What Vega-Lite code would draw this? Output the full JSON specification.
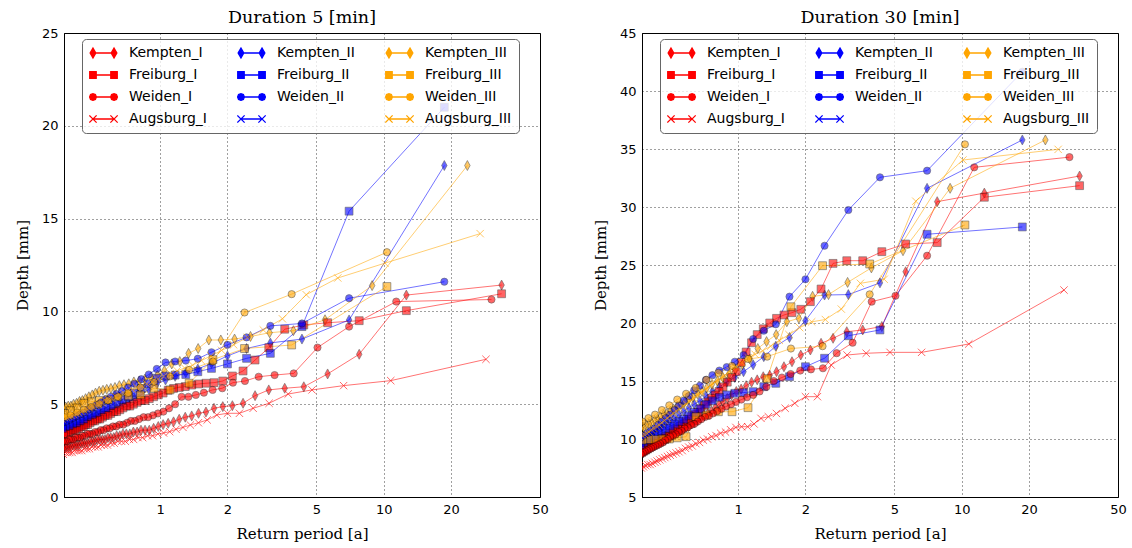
{
  "$schema": "https://vega.github.io/schema/vega-lite/v6.json",
  "background": "white",
  "padding": {"left": 14, "top": 8, "right": 5, "bottom": 5},
  "config": {
    "view": {"stroke": "black", "strokeWidth": 1},
    "axis": {
      "domainColor": "black", "labelColor": "black", "labelFont": "DejaVu Sans", "labelFontSize": 13,
      "titleFont": "DejaVu Serif", "titleFontSize": 15, "titleFontWeight": "normal", "titleColor": "black",
      "grid": true, "gridColor": "#000", "gridDash": [1, 3], "gridOpacity": 0.75, "gridWidth": 1,
      "ticks": false, "labelPadding": 6, "labelFlush": false, "labelOverlap": false, "labelBound": false
    },
    "title": {"font": "DejaVu Serif", "fontSize": 17.5, "fontWeight": "normal", "color": "black", "anchor": "middle", "frame": "group", "baseline": "alphabetic", "offset": 1},
    "legend": {
      "columns": 3, "columnPadding": 30, "rowPadding": 8, "clipHeight": 14, "padding": 7, "gridAlign": "each",
      "symbolSize": 729, "symbolStrokeWidth": 1.3, "symbolOpacity": 1, "labelOffset": 11,
      "labelFont": "DejaVu Sans", "labelFontSize": 14, "labelColor": "black", "labelLimit": 200,
      "fillColor": "rgba(255,255,255,0.78)", "strokeColor": "#666", "cornerRadius": 4
    }
  },
  "datasets": {
    "d5": [
      {"s":"Kempten_I","t":33.667,"v":11.42},{"s":"Kempten_I","t":12.625,"v":10.88},{"s":"Kempten_I","t":7.769,"v":7.69},{"s":"Kempten_I","t":5.611,"v":6.63},{"s":"Kempten_I","t":4.391,"v":5.94},{"s":"Kempten_I","t":3.607,"v":5.86},{"s":"Kempten_I","t":3.061,"v":5.77},{"s":"Kempten_I","t":2.658,"v":5.46},{"s":"Kempten_I","t":2.349,"v":5.05},{"s":"Kempten_I","t":2.104,"v":4.92},
      {"s":"Kempten_I","t":1.906,"v":4.87},{"s":"Kempten_I","t":1.741,"v":4.78},{"s":"Kempten_I","t":1.603,"v":4.58},{"s":"Kempten_I","t":1.485,"v":4.51},{"s":"Kempten_I","t":1.384,"v":4.37},{"s":"Kempten_I","t":1.295,"v":4.3},{"s":"Kempten_I","t":1.217,"v":4.19},{"s":"Kempten_I","t":1.148,"v":4.05},{"s":"Kempten_I","t":1.086,"v":3.97},{"s":"Kempten_I","t":1.031,"v":3.9},
      {"s":"Kempten_I","t":0.981,"v":3.8},{"s":"Kempten_I","t":0.935,"v":3.7},{"s":"Kempten_I","t":0.894,"v":3.6},{"s":"Kempten_I","t":0.856,"v":3.6},{"s":"Kempten_I","t":0.821,"v":3.6},{"s":"Kempten_I","t":0.789,"v":3.5},{"s":"Kempten_I","t":0.759,"v":3.5},{"s":"Kempten_I","t":0.732,"v":3.4},{"s":"Kempten_I","t":0.706,"v":3.4},{"s":"Kempten_I","t":0.682,"v":3.4},
      {"s":"Kempten_I","t":0.66,"v":3.3},{"s":"Kempten_I","t":0.639,"v":3.3},{"s":"Kempten_I","t":0.62,"v":3.2},{"s":"Kempten_I","t":0.601,"v":3.2},{"s":"Kempten_I","t":0.584,"v":3.2},{"s":"Kempten_I","t":0.567,"v":3.1},{"s":"Kempten_I","t":0.552,"v":3.1},{"s":"Kempten_I","t":0.537,"v":3.1},{"s":"Kempten_I","t":0.523,"v":3.1},{"s":"Kempten_I","t":0.51,"v":3.0},
      {"s":"Kempten_I","t":0.498,"v":3.0},{"s":"Kempten_I","t":0.486,"v":3.0},{"s":"Kempten_I","t":0.474,"v":2.9},{"s":"Kempten_I","t":0.463,"v":2.9},{"s":"Kempten_I","t":0.453,"v":2.9},{"s":"Kempten_I","t":0.443,"v":2.9},{"s":"Kempten_I","t":0.433,"v":2.8},{"s":"Kempten_I","t":0.424,"v":2.8},{"s":"Kempten_I","t":0.416,"v":2.8},{"s":"Kempten_I","t":0.407,"v":2.8},
      {"s":"Kempten_I","t":0.399,"v":2.7},{"s":"Kempten_I","t":0.391,"v":2.7},{"s":"Kempten_I","t":0.384,"v":2.7},{"s":"Kempten_I","t":0.377,"v":2.7},{"s":"Kempten_I","t":0.37,"v":2.6},

      {"s":"Freiburg_I","t":33.667,"v":10.95},{"s":"Freiburg_I","t":12.625,"v":10.04},{"s":"Freiburg_I","t":7.769,"v":9.5},{"s":"Freiburg_I","t":5.611,"v":9.39},{"s":"Freiburg_I","t":4.391,"v":9.27},{"s":"Freiburg_I","t":3.607,"v":9.04},{"s":"Freiburg_I","t":3.061,"v":8.04},{"s":"Freiburg_I","t":2.658,"v":7.38},{"s":"Freiburg_I","t":2.349,"v":6.79},{"s":"Freiburg_I","t":2.104,"v":6.52},
      {"s":"Freiburg_I","t":1.906,"v":6.25},{"s":"Freiburg_I","t":1.741,"v":6.16},{"s":"Freiburg_I","t":1.603,"v":6.13},{"s":"Freiburg_I","t":1.485,"v":6.09},{"s":"Freiburg_I","t":1.384,"v":6.03},{"s":"Freiburg_I","t":1.295,"v":5.95},{"s":"Freiburg_I","t":1.217,"v":5.9},{"s":"Freiburg_I","t":1.148,"v":5.85},{"s":"Freiburg_I","t":1.086,"v":5.75},{"s":"Freiburg_I","t":1.031,"v":5.6},
      {"s":"Freiburg_I","t":0.981,"v":5.5},{"s":"Freiburg_I","t":0.935,"v":5.4},{"s":"Freiburg_I","t":0.894,"v":5.3},{"s":"Freiburg_I","t":0.856,"v":5.2},{"s":"Freiburg_I","t":0.821,"v":5.2},{"s":"Freiburg_I","t":0.789,"v":5.1},{"s":"Freiburg_I","t":0.759,"v":5.0},{"s":"Freiburg_I","t":0.732,"v":4.9},{"s":"Freiburg_I","t":0.706,"v":4.9},{"s":"Freiburg_I","t":0.682,"v":4.8},
      {"s":"Freiburg_I","t":0.66,"v":4.7},{"s":"Freiburg_I","t":0.639,"v":4.6},{"s":"Freiburg_I","t":0.62,"v":4.6},{"s":"Freiburg_I","t":0.601,"v":4.5},{"s":"Freiburg_I","t":0.584,"v":4.4},{"s":"Freiburg_I","t":0.567,"v":4.4},{"s":"Freiburg_I","t":0.552,"v":4.3},{"s":"Freiburg_I","t":0.537,"v":4.2},{"s":"Freiburg_I","t":0.523,"v":4.2},{"s":"Freiburg_I","t":0.51,"v":4.1},
      {"s":"Freiburg_I","t":0.498,"v":4.1},{"s":"Freiburg_I","t":0.486,"v":4.0},{"s":"Freiburg_I","t":0.474,"v":3.9},{"s":"Freiburg_I","t":0.463,"v":3.9},{"s":"Freiburg_I","t":0.453,"v":3.8},{"s":"Freiburg_I","t":0.443,"v":3.8},{"s":"Freiburg_I","t":0.433,"v":3.7},{"s":"Freiburg_I","t":0.424,"v":3.7},{"s":"Freiburg_I","t":0.416,"v":3.6},{"s":"Freiburg_I","t":0.407,"v":3.6},
      {"s":"Freiburg_I","t":0.399,"v":3.6},{"s":"Freiburg_I","t":0.391,"v":3.5},{"s":"Freiburg_I","t":0.384,"v":3.5},{"s":"Freiburg_I","t":0.377,"v":3.4},{"s":"Freiburg_I","t":0.37,"v":3.4},

      {"s":"Weiden_I","t":30.333,"v":10.64},{"s":"Weiden_I","t":11.375,"v":10.53},{"s":"Weiden_I","t":7.0,"v":9.18},{"s":"Weiden_I","t":5.056,"v":8.05},{"s":"Weiden_I","t":3.957,"v":6.66},{"s":"Weiden_I","t":3.25,"v":6.57},{"s":"Weiden_I","t":2.758,"v":6.48},{"s":"Weiden_I","t":2.395,"v":6.25},{"s":"Weiden_I","t":2.116,"v":6.16},{"s":"Weiden_I","t":1.896,"v":5.86},
      {"s":"Weiden_I","t":1.717,"v":5.77},{"s":"Weiden_I","t":1.569,"v":5.62},{"s":"Weiden_I","t":1.444,"v":5.5},{"s":"Weiden_I","t":1.338,"v":5.4},{"s":"Weiden_I","t":1.247,"v":5.4},{"s":"Weiden_I","t":1.167,"v":5.0},{"s":"Weiden_I","t":1.096,"v":4.78},{"s":"Weiden_I","t":1.034,"v":4.6},{"s":"Weiden_I","t":0.978,"v":4.5},{"s":"Weiden_I","t":0.929,"v":4.4},
      {"s":"Weiden_I","t":0.883,"v":4.3},{"s":"Weiden_I","t":0.843,"v":4.3},{"s":"Weiden_I","t":0.805,"v":4.2},{"s":"Weiden_I","t":0.771,"v":4.1},{"s":"Weiden_I","t":0.74,"v":4.1},{"s":"Weiden_I","t":0.711,"v":4.0},{"s":"Weiden_I","t":0.684,"v":3.9},{"s":"Weiden_I","t":0.659,"v":3.9},{"s":"Weiden_I","t":0.636,"v":3.8},{"s":"Weiden_I","t":0.615,"v":3.8},
      {"s":"Weiden_I","t":0.595,"v":3.7},{"s":"Weiden_I","t":0.576,"v":3.7},{"s":"Weiden_I","t":0.558,"v":3.6},{"s":"Weiden_I","t":0.542,"v":3.6},{"s":"Weiden_I","t":0.526,"v":3.5},{"s":"Weiden_I","t":0.511,"v":3.5},{"s":"Weiden_I","t":0.497,"v":3.4},{"s":"Weiden_I","t":0.484,"v":3.4},{"s":"Weiden_I","t":0.472,"v":3.4},{"s":"Weiden_I","t":0.46,"v":3.3},
      {"s":"Weiden_I","t":0.448,"v":3.3},{"s":"Weiden_I","t":0.438,"v":3.2},{"s":"Weiden_I","t":0.427,"v":3.2},{"s":"Weiden_I","t":0.417,"v":3.2},{"s":"Weiden_I","t":0.408,"v":3.1},{"s":"Weiden_I","t":0.399,"v":3.1},{"s":"Weiden_I","t":0.391,"v":3.1},{"s":"Weiden_I","t":0.382,"v":3.0},{"s":"Weiden_I","t":0.375,"v":3.0},{"s":"Weiden_I","t":0.367,"v":3.0},

      {"s":"Augsburg_I","t":28.667,"v":7.42},{"s":"Augsburg_I","t":10.75,"v":6.27},{"s":"Augsburg_I","t":6.615,"v":6.0},{"s":"Augsburg_I","t":4.778,"v":5.77},{"s":"Augsburg_I","t":3.739,"v":5.55},{"s":"Augsburg_I","t":3.071,"v":5.05},{"s":"Augsburg_I","t":2.606,"v":4.78},{"s":"Augsburg_I","t":2.263,"v":4.51},{"s":"Augsburg_I","t":2.0,"v":4.51},{"s":"Augsburg_I","t":1.792,"v":4.42},
      {"s":"Augsburg_I","t":1.623,"v":4.15},{"s":"Augsburg_I","t":1.483,"v":4.0},{"s":"Augsburg_I","t":1.365,"v":3.88},{"s":"Augsburg_I","t":1.265,"v":3.75},{"s":"Augsburg_I","t":1.178,"v":3.65},{"s":"Augsburg_I","t":1.103,"v":3.52},{"s":"Augsburg_I","t":1.036,"v":3.45},{"s":"Augsburg_I","t":0.977,"v":3.4},{"s":"Augsburg_I","t":0.925,"v":3.3},{"s":"Augsburg_I","t":0.878,"v":3.3},
      {"s":"Augsburg_I","t":0.835,"v":3.2},{"s":"Augsburg_I","t":0.796,"v":3.2},{"s":"Augsburg_I","t":0.761,"v":3.1},{"s":"Augsburg_I","t":0.729,"v":3.1},{"s":"Augsburg_I","t":0.699,"v":3.0},{"s":"Augsburg_I","t":0.672,"v":3.0},{"s":"Augsburg_I","t":0.647,"v":3.0},{"s":"Augsburg_I","t":0.623,"v":2.9},{"s":"Augsburg_I","t":0.601,"v":2.9},{"s":"Augsburg_I","t":0.581,"v":2.8},
      {"s":"Augsburg_I","t":0.562,"v":2.8},{"s":"Augsburg_I","t":0.544,"v":2.8},{"s":"Augsburg_I","t":0.528,"v":2.7},{"s":"Augsburg_I","t":0.512,"v":2.7},{"s":"Augsburg_I","t":0.497,"v":2.7},{"s":"Augsburg_I","t":0.483,"v":2.6},{"s":"Augsburg_I","t":0.47,"v":2.6},{"s":"Augsburg_I","t":0.458,"v":2.6},{"s":"Augsburg_I","t":0.446,"v":2.5},{"s":"Augsburg_I","t":0.434,"v":2.5},
      {"s":"Augsburg_I","t":0.424,"v":2.5},{"s":"Augsburg_I","t":0.413,"v":2.5},{"s":"Augsburg_I","t":0.404,"v":2.4},{"s":"Augsburg_I","t":0.394,"v":2.4},{"s":"Augsburg_I","t":0.386,"v":2.4},{"s":"Augsburg_I","t":0.377,"v":2.4},{"s":"Augsburg_I","t":0.369,"v":2.3},

      {"s":"Kempten_II","t":18.667,"v":17.86},{"s":"Kempten_II","t":7.0,"v":9.54},{"s":"Kempten_II","t":4.308,"v":8.51},{"s":"Kempten_II","t":3.111,"v":8.3},{"s":"Kempten_II","t":2.435,"v":8.0},{"s":"Kempten_II","t":2.0,"v":7.6},{"s":"Kempten_II","t":1.697,"v":7.2},{"s":"Kempten_II","t":1.474,"v":6.9},{"s":"Kempten_II","t":1.302,"v":6.7},{"s":"Kempten_II","t":1.167,"v":6.5},
      {"s":"Kempten_II","t":1.057,"v":6.3},{"s":"Kempten_II","t":0.966,"v":6.1},{"s":"Kempten_II","t":0.889,"v":5.8},{"s":"Kempten_II","t":0.824,"v":5.5},{"s":"Kempten_II","t":0.767,"v":5.3},{"s":"Kempten_II","t":0.718,"v":5.1},{"s":"Kempten_II","t":0.675,"v":5.0},{"s":"Kempten_II","t":0.636,"v":4.8},{"s":"Kempten_II","t":0.602,"v":4.7},{"s":"Kempten_II","t":0.571,"v":4.6},
      {"s":"Kempten_II","t":0.544,"v":4.5},{"s":"Kempten_II","t":0.519,"v":4.4},{"s":"Kempten_II","t":0.496,"v":4.3},{"s":"Kempten_II","t":0.475,"v":4.2},{"s":"Kempten_II","t":0.455,"v":4.1},{"s":"Kempten_II","t":0.438,"v":4.0},{"s":"Kempten_II","t":0.421,"v":3.9},{"s":"Kempten_II","t":0.406,"v":3.8},{"s":"Kempten_II","t":0.392,"v":3.7},{"s":"Kempten_II","t":0.378,"v":3.7},{"s":"Kempten_II","t":0.366,"v":3.6},

      {"s":"Freiburg_II","t":18.667,"v":21.0},{"s":"Freiburg_II","t":7.0,"v":15.4},{"s":"Freiburg_II","t":4.308,"v":9.18},{"s":"Freiburg_II","t":3.111,"v":7.74},{"s":"Freiburg_II","t":2.435,"v":7.47},{"s":"Freiburg_II","t":2.0,"v":7.17},{"s":"Freiburg_II","t":1.697,"v":6.93},{"s":"Freiburg_II","t":1.474,"v":6.75},{"s":"Freiburg_II","t":1.302,"v":6.6},{"s":"Freiburg_II","t":1.167,"v":6.57},
      {"s":"Freiburg_II","t":1.057,"v":6.52},{"s":"Freiburg_II","t":0.966,"v":6.4},{"s":"Freiburg_II","t":0.889,"v":6.1},{"s":"Freiburg_II","t":0.824,"v":5.85},{"s":"Freiburg_II","t":0.767,"v":5.6},{"s":"Freiburg_II","t":0.718,"v":5.4},{"s":"Freiburg_II","t":0.675,"v":5.25},{"s":"Freiburg_II","t":0.636,"v":5.1},{"s":"Freiburg_II","t":0.602,"v":4.95},{"s":"Freiburg_II","t":0.571,"v":4.8},
      {"s":"Freiburg_II","t":0.544,"v":4.7},{"s":"Freiburg_II","t":0.519,"v":4.55},{"s":"Freiburg_II","t":0.496,"v":4.45},{"s":"Freiburg_II","t":0.475,"v":4.35},{"s":"Freiburg_II","t":0.455,"v":4.2},{"s":"Freiburg_II","t":0.438,"v":4.1},{"s":"Freiburg_II","t":0.421,"v":4.0},{"s":"Freiburg_II","t":0.406,"v":3.95},{"s":"Freiburg_II","t":0.392,"v":3.85},{"s":"Freiburg_II","t":0.378,"v":3.8},{"s":"Freiburg_II","t":0.366,"v":3.7},

      {"s":"Weiden_II","t":18.667,"v":11.6},{"s":"Weiden_II","t":7.0,"v":10.71},{"s":"Weiden_II","t":4.308,"v":9.35},{"s":"Weiden_II","t":3.111,"v":9.22},{"s":"Weiden_II","t":2.435,"v":8.6},{"s":"Weiden_II","t":2.0,"v":8.2},{"s":"Weiden_II","t":1.697,"v":7.8},{"s":"Weiden_II","t":1.474,"v":7.45},{"s":"Weiden_II","t":1.302,"v":7.35},{"s":"Weiden_II","t":1.167,"v":7.3},
      {"s":"Weiden_II","t":1.057,"v":7.25},{"s":"Weiden_II","t":0.966,"v":6.9},{"s":"Weiden_II","t":0.889,"v":6.6},{"s":"Weiden_II","t":0.824,"v":6.35},{"s":"Weiden_II","t":0.767,"v":6.1},{"s":"Weiden_II","t":0.718,"v":5.9},{"s":"Weiden_II","t":0.675,"v":5.7},{"s":"Weiden_II","t":0.636,"v":5.55},{"s":"Weiden_II","t":0.602,"v":5.4},{"s":"Weiden_II","t":0.571,"v":5.25},
      {"s":"Weiden_II","t":0.544,"v":5.1},{"s":"Weiden_II","t":0.519,"v":4.95},{"s":"Weiden_II","t":0.496,"v":4.8},{"s":"Weiden_II","t":0.475,"v":4.7},{"s":"Weiden_II","t":0.455,"v":4.55},{"s":"Weiden_II","t":0.438,"v":4.45},{"s":"Weiden_II","t":0.421,"v":4.35},{"s":"Weiden_II","t":0.406,"v":4.25},{"s":"Weiden_II","t":0.392,"v":4.15},{"s":"Weiden_II","t":0.378,"v":4.05},{"s":"Weiden_II","t":0.366,"v":4.0},

      {"s":"Kempten_III","t":23.667,"v":17.86},{"s":"Kempten_III","t":8.875,"v":11.39},{"s":"Kempten_III","t":5.462,"v":9.55},{"s":"Kempten_III","t":3.944,"v":8.96},{"s":"Kempten_III","t":3.087,"v":8.85},{"s":"Kempten_III","t":2.536,"v":8.65},{"s":"Kempten_III","t":2.152,"v":8.51},{"s":"Kempten_III","t":1.868,"v":8.46},{"s":"Kempten_III","t":1.651,"v":8.46},{"s":"Kempten_III","t":1.479,"v":8.0},
      {"s":"Kempten_III","t":1.34,"v":7.74},{"s":"Kempten_III","t":1.224,"v":7.3},{"s":"Kempten_III","t":1.127,"v":7.17},{"s":"Kempten_III","t":1.044,"v":6.8},{"s":"Kempten_III","t":0.973,"v":6.57},{"s":"Kempten_III","t":0.91,"v":6.45},{"s":"Kempten_III","t":0.855,"v":6.35},{"s":"Kempten_III","t":0.807,"v":6.25},{"s":"Kempten_III","t":0.763,"v":6.2},{"s":"Kempten_III","t":0.724,"v":6.1},
      {"s":"Kempten_III","t":0.689,"v":6.05},{"s":"Kempten_III","t":0.657,"v":6.0},{"s":"Kempten_III","t":0.628,"v":5.9},{"s":"Kempten_III","t":0.602,"v":5.85},{"s":"Kempten_III","t":0.577,"v":5.8},{"s":"Kempten_III","t":0.555,"v":5.75},{"s":"Kempten_III","t":0.534,"v":5.7},{"s":"Kempten_III","t":0.514,"v":5.6},{"s":"Kempten_III","t":0.497,"v":5.5},{"s":"Kempten_III","t":0.48,"v":5.4},
      {"s":"Kempten_III","t":0.464,"v":5.3},{"s":"Kempten_III","t":0.449,"v":5.2},{"s":"Kempten_III","t":0.436,"v":5.15},{"s":"Kempten_III","t":0.423,"v":5.05},{"s":"Kempten_III","t":0.41,"v":5.0},{"s":"Kempten_III","t":0.399,"v":4.9},{"s":"Kempten_III","t":0.388,"v":4.9},{"s":"Kempten_III","t":0.378,"v":4.85},{"s":"Kempten_III","t":0.368,"v":4.8},

      {"s":"Freiburg_III","t":10.333,"v":11.34},{"s":"Freiburg_III","t":3.875,"v":8.19},{"s":"Freiburg_III","t":2.385,"v":8.0},{"s":"Freiburg_III","t":1.722,"v":7.4},{"s":"Freiburg_III","t":1.348,"v":6.13},{"s":"Freiburg_III","t":1.107,"v":5.77},{"s":"Freiburg_III","t":0.939,"v":5.86},{"s":"Freiburg_III","t":0.816,"v":5.5},{"s":"Freiburg_III","t":0.721,"v":5.45},
      {"s":"Freiburg_III","t":0.646,"v":5.4},{"s":"Freiburg_III","t":0.585,"v":5.25},{"s":"Freiburg_III","t":0.534,"v":5.2},{"s":"Freiburg_III","t":0.492,"v":5.13},{"s":"Freiburg_III","t":0.456,"v":5.05},{"s":"Freiburg_III","t":0.425,"v":4.8},{"s":"Freiburg_III","t":0.397,"v":4.65},{"s":"Freiburg_III","t":0.373,"v":4.5},{"s":"Freiburg_III","t":0.352,"v":4.4},

      {"s":"Weiden_III","t":10.333,"v":13.19},{"s":"Weiden_III","t":3.875,"v":10.93},{"s":"Weiden_III","t":2.385,"v":9.94},{"s":"Weiden_III","t":1.722,"v":7.3},{"s":"Weiden_III","t":1.348,"v":6.85},{"s":"Weiden_III","t":1.107,"v":6.5},{"s":"Weiden_III","t":0.939,"v":6.2},{"s":"Weiden_III","t":0.816,"v":5.9},{"s":"Weiden_III","t":0.721,"v":5.6},
      {"s":"Weiden_III","t":0.646,"v":5.4},{"s":"Weiden_III","t":0.585,"v":5.2},{"s":"Weiden_III","t":0.534,"v":5.0},{"s":"Weiden_III","t":0.492,"v":4.85},{"s":"Weiden_III","t":0.456,"v":4.7},{"s":"Weiden_III","t":0.425,"v":4.55},{"s":"Weiden_III","t":0.397,"v":4.4},{"s":"Weiden_III","t":0.373,"v":4.3},{"s":"Weiden_III","t":0.352,"v":4.2},

      {"s":"Augsburg_III","t":27.0,"v":14.19},{"s":"Augsburg_III","t":10.125,"v":12.6},{"s":"Augsburg_III","t":6.231,"v":11.8},{"s":"Augsburg_III","t":4.5,"v":10.9},{"s":"Augsburg_III","t":3.522,"v":9.6},{"s":"Augsburg_III","t":2.893,"v":9.0},{"s":"Augsburg_III","t":2.455,"v":8.6},{"s":"Augsburg_III","t":2.132,"v":8.2},{"s":"Augsburg_III","t":1.884,"v":7.9},{"s":"Augsburg_III","t":1.688,"v":7.6},
      {"s":"Augsburg_III","t":1.528,"v":7.35},{"s":"Augsburg_III","t":1.397,"v":7.1},{"s":"Augsburg_III","t":1.286,"v":6.95},{"s":"Augsburg_III","t":1.191,"v":6.8},{"s":"Augsburg_III","t":1.11,"v":6.65},{"s":"Augsburg_III","t":1.038,"v":6.5},{"s":"Augsburg_III","t":0.976,"v":6.35},{"s":"Augsburg_III","t":0.92,"v":6.2},{"s":"Augsburg_III","t":0.871,"v":6.1},{"s":"Augsburg_III","t":0.827,"v":6.0},
      {"s":"Augsburg_III","t":0.786,"v":5.9},{"s":"Augsburg_III","t":0.75,"v":5.8},{"s":"Augsburg_III","t":0.717,"v":5.7},{"s":"Augsburg_III","t":0.686,"v":5.6},{"s":"Augsburg_III","t":0.659,"v":5.5},{"s":"Augsburg_III","t":0.633,"v":5.4},{"s":"Augsburg_III","t":0.609,"v":5.3},{"s":"Augsburg_III","t":0.587,"v":5.25},{"s":"Augsburg_III","t":0.566,"v":5.2},{"s":"Augsburg_III","t":0.547,"v":5.1},
      {"s":"Augsburg_III","t":0.529,"v":5.0},{"s":"Augsburg_III","t":0.513,"v":4.95},{"s":"Augsburg_III","t":0.497,"v":4.9},{"s":"Augsburg_III","t":0.482,"v":4.8},{"s":"Augsburg_III","t":0.468,"v":4.75},{"s":"Augsburg_III","t":0.455,"v":4.7},{"s":"Augsburg_III","t":0.443,"v":4.6},{"s":"Augsburg_III","t":0.431,"v":4.55},{"s":"Augsburg_III","t":0.42,"v":4.5},{"s":"Augsburg_III","t":0.409,"v":4.45},
      {"s":"Augsburg_III","t":0.399,"v":4.4},{"s":"Augsburg_III","t":0.39,"v":4.35},{"s":"Augsburg_III","t":0.381,"v":4.3},{"s":"Augsburg_III","t":0.372,"v":4.3},{"s":"Augsburg_III","t":0.363,"v":4.2}
    ],
    "d30": [
      {"s":"Kempten_I","t":33.667,"v":32.67},{"s":"Kempten_I","t":12.625,"v":31.2},{"s":"Kempten_I","t":7.769,"v":30.46},{"s":"Kempten_I","t":5.611,"v":24.42},{"s":"Kempten_I","t":4.391,"v":19.7},{"s":"Kempten_I","t":3.607,"v":19.4},{"s":"Kempten_I","t":3.061,"v":19.25},{"s":"Kempten_I","t":2.658,"v":18.68},{"s":"Kempten_I","t":2.349,"v":18.25},{"s":"Kempten_I","t":2.104,"v":17.67},
      {"s":"Kempten_I","t":1.906,"v":17.24},{"s":"Kempten_I","t":1.741,"v":16.66},{"s":"Kempten_I","t":1.603,"v":16.23},{"s":"Kempten_I","t":1.485,"v":15.8},{"s":"Kempten_I","t":1.384,"v":15.5},{"s":"Kempten_I","t":1.295,"v":15.37},{"s":"Kempten_I","t":1.217,"v":15.1},{"s":"Kempten_I","t":1.148,"v":14.9},{"s":"Kempten_I","t":1.086,"v":14.6},{"s":"Kempten_I","t":1.031,"v":14.3},
      {"s":"Kempten_I","t":0.981,"v":14.1},{"s":"Kempten_I","t":0.935,"v":13.8},{"s":"Kempten_I","t":0.894,"v":13.5},{"s":"Kempten_I","t":0.856,"v":13.2},{"s":"Kempten_I","t":0.821,"v":13.0},{"s":"Kempten_I","t":0.789,"v":12.7},{"s":"Kempten_I","t":0.759,"v":12.4},{"s":"Kempten_I","t":0.732,"v":12.2},{"s":"Kempten_I","t":0.706,"v":12.0},{"s":"Kempten_I","t":0.682,"v":11.8},
      {"s":"Kempten_I","t":0.66,"v":11.6},{"s":"Kempten_I","t":0.639,"v":11.4},{"s":"Kempten_I","t":0.62,"v":11.3},{"s":"Kempten_I","t":0.601,"v":11.1},{"s":"Kempten_I","t":0.584,"v":11.0},{"s":"Kempten_I","t":0.567,"v":10.8},{"s":"Kempten_I","t":0.552,"v":10.7},{"s":"Kempten_I","t":0.537,"v":10.5},{"s":"Kempten_I","t":0.523,"v":10.4},{"s":"Kempten_I","t":0.51,"v":10.3},
      {"s":"Kempten_I","t":0.498,"v":10.1},{"s":"Kempten_I","t":0.486,"v":10.0},{"s":"Kempten_I","t":0.474,"v":9.9},{"s":"Kempten_I","t":0.463,"v":9.8},{"s":"Kempten_I","t":0.453,"v":9.7},{"s":"Kempten_I","t":0.443,"v":9.6},{"s":"Kempten_I","t":0.433,"v":9.5},{"s":"Kempten_I","t":0.424,"v":9.4},{"s":"Kempten_I","t":0.416,"v":9.3},{"s":"Kempten_I","t":0.407,"v":9.2},
      {"s":"Kempten_I","t":0.399,"v":9.1},{"s":"Kempten_I","t":0.391,"v":9.0},{"s":"Kempten_I","t":0.384,"v":8.9},{"s":"Kempten_I","t":0.377,"v":8.8},{"s":"Kempten_I","t":0.37,"v":8.7},

      {"s":"Freiburg_I","t":33.667,"v":31.84},{"s":"Freiburg_I","t":12.625,"v":30.84},{"s":"Freiburg_I","t":7.769,"v":26.93},{"s":"Freiburg_I","t":5.611,"v":26.81},{"s":"Freiburg_I","t":4.391,"v":26.15},{"s":"Freiburg_I","t":3.607,"v":25.37},{"s":"Freiburg_I","t":3.061,"v":25.37},{"s":"Freiburg_I","t":2.658,"v":25.14},{"s":"Freiburg_I","t":2.349,"v":22.93},{"s":"Freiburg_I","t":2.104,"v":21.84},
      {"s":"Freiburg_I","t":1.906,"v":21.18},{"s":"Freiburg_I","t":1.741,"v":20.89},{"s":"Freiburg_I","t":1.603,"v":20.69},{"s":"Freiburg_I","t":1.485,"v":20.4},{"s":"Freiburg_I","t":1.384,"v":20.0},{"s":"Freiburg_I","t":1.295,"v":19.5},{"s":"Freiburg_I","t":1.217,"v":19.0},{"s":"Freiburg_I","t":1.148,"v":18.3},{"s":"Freiburg_I","t":1.086,"v":17.5},{"s":"Freiburg_I","t":1.031,"v":16.6},
      {"s":"Freiburg_I","t":0.981,"v":15.8},{"s":"Freiburg_I","t":0.935,"v":15.3},{"s":"Freiburg_I","t":0.894,"v":14.9},{"s":"Freiburg_I","t":0.856,"v":14.5},{"s":"Freiburg_I","t":0.821,"v":14.1},{"s":"Freiburg_I","t":0.789,"v":13.8},{"s":"Freiburg_I","t":0.759,"v":13.5},{"s":"Freiburg_I","t":0.732,"v":13.2},{"s":"Freiburg_I","t":0.706,"v":12.9},{"s":"Freiburg_I","t":0.682,"v":12.6},
      {"s":"Freiburg_I","t":0.66,"v":12.3},{"s":"Freiburg_I","t":0.639,"v":12.1},{"s":"Freiburg_I","t":0.62,"v":11.9},{"s":"Freiburg_I","t":0.601,"v":11.7},{"s":"Freiburg_I","t":0.584,"v":11.5},{"s":"Freiburg_I","t":0.567,"v":11.3},{"s":"Freiburg_I","t":0.552,"v":11.1},{"s":"Freiburg_I","t":0.537,"v":10.9},{"s":"Freiburg_I","t":0.523,"v":10.8},{"s":"Freiburg_I","t":0.51,"v":10.6},
      {"s":"Freiburg_I","t":0.498,"v":10.5},{"s":"Freiburg_I","t":0.486,"v":10.3},{"s":"Freiburg_I","t":0.474,"v":10.2},{"s":"Freiburg_I","t":0.463,"v":10.1},{"s":"Freiburg_I","t":0.453,"v":10.0},{"s":"Freiburg_I","t":0.443,"v":9.9},{"s":"Freiburg_I","t":0.433,"v":9.8},{"s":"Freiburg_I","t":0.424,"v":9.7},{"s":"Freiburg_I","t":0.416,"v":9.6},{"s":"Freiburg_I","t":0.407,"v":9.5},
      {"s":"Freiburg_I","t":0.399,"v":9.4},{"s":"Freiburg_I","t":0.391,"v":9.3},{"s":"Freiburg_I","t":0.384,"v":9.2},{"s":"Freiburg_I","t":0.377,"v":9.1},{"s":"Freiburg_I","t":0.37,"v":9.0},

      {"s":"Weiden_I","t":30.333,"v":34.3},{"s":"Weiden_I","t":11.375,"v":33.42},{"s":"Weiden_I","t":7.0,"v":25.8},{"s":"Weiden_I","t":5.056,"v":22.35},{"s":"Weiden_I","t":3.957,"v":21.84},{"s":"Weiden_I","t":3.25,"v":18.3},{"s":"Weiden_I","t":2.758,"v":17.4},{"s":"Weiden_I","t":2.395,"v":16.1},{"s":"Weiden_I","t":2.116,"v":16.0},{"s":"Weiden_I","t":1.896,"v":15.9},
      {"s":"Weiden_I","t":1.717,"v":15.6},{"s":"Weiden_I","t":1.569,"v":15.3},{"s":"Weiden_I","t":1.444,"v":15.0},{"s":"Weiden_I","t":1.338,"v":14.5},{"s":"Weiden_I","t":1.247,"v":14.1},{"s":"Weiden_I","t":1.167,"v":13.8},{"s":"Weiden_I","t":1.096,"v":13.6},{"s":"Weiden_I","t":1.034,"v":13.4},{"s":"Weiden_I","t":0.978,"v":13.2},{"s":"Weiden_I","t":0.929,"v":13.0},
      {"s":"Weiden_I","t":0.883,"v":12.8},{"s":"Weiden_I","t":0.843,"v":12.6},{"s":"Weiden_I","t":0.805,"v":12.4},{"s":"Weiden_I","t":0.771,"v":12.2},{"s":"Weiden_I","t":0.74,"v":12.0},{"s":"Weiden_I","t":0.711,"v":11.9},{"s":"Weiden_I","t":0.684,"v":11.7},{"s":"Weiden_I","t":0.659,"v":11.5},{"s":"Weiden_I","t":0.636,"v":11.3},{"s":"Weiden_I","t":0.615,"v":11.2},
      {"s":"Weiden_I","t":0.595,"v":11.0},{"s":"Weiden_I","t":0.576,"v":10.9},{"s":"Weiden_I","t":0.558,"v":10.7},{"s":"Weiden_I","t":0.542,"v":10.6},{"s":"Weiden_I","t":0.526,"v":10.4},{"s":"Weiden_I","t":0.511,"v":10.3},{"s":"Weiden_I","t":0.497,"v":10.2},{"s":"Weiden_I","t":0.484,"v":10.0},{"s":"Weiden_I","t":0.472,"v":9.9},{"s":"Weiden_I","t":0.46,"v":9.7},
      {"s":"Weiden_I","t":0.448,"v":9.6},{"s":"Weiden_I","t":0.438,"v":9.5},{"s":"Weiden_I","t":0.427,"v":9.4},{"s":"Weiden_I","t":0.417,"v":9.3},{"s":"Weiden_I","t":0.408,"v":9.2},{"s":"Weiden_I","t":0.399,"v":9.1},{"s":"Weiden_I","t":0.391,"v":9.0},{"s":"Weiden_I","t":0.382,"v":8.9},{"s":"Weiden_I","t":0.375,"v":8.8},{"s":"Weiden_I","t":0.367,"v":8.7},

      {"s":"Augsburg_I","t":28.667,"v":22.84},{"s":"Augsburg_I","t":10.75,"v":18.19},{"s":"Augsburg_I","t":6.615,"v":17.47},{"s":"Augsburg_I","t":4.778,"v":17.47},{"s":"Augsburg_I","t":3.739,"v":17.39},{"s":"Augsburg_I","t":3.071,"v":17.24},{"s":"Augsburg_I","t":2.606,"v":16.38},{"s":"Augsburg_I","t":2.263,"v":13.65},{"s":"Augsburg_I","t":2.0,"v":13.65},{"s":"Augsburg_I","t":1.792,"v":13.08},
      {"s":"Augsburg_I","t":1.623,"v":12.65},{"s":"Augsburg_I","t":1.483,"v":12.2},{"s":"Augsburg_I","t":1.365,"v":11.92},{"s":"Augsburg_I","t":1.265,"v":11.78},{"s":"Augsburg_I","t":1.178,"v":11.3},{"s":"Augsburg_I","t":1.103,"v":11.06},{"s":"Augsburg_I","t":1.036,"v":11.06},{"s":"Augsburg_I","t":0.977,"v":11.0},{"s":"Augsburg_I","t":0.925,"v":10.8},{"s":"Augsburg_I","t":0.878,"v":10.6},
      {"s":"Augsburg_I","t":0.835,"v":10.5},{"s":"Augsburg_I","t":0.796,"v":10.3},{"s":"Augsburg_I","t":0.761,"v":10.2},{"s":"Augsburg_I","t":0.729,"v":10.0},{"s":"Augsburg_I","t":0.699,"v":9.9},{"s":"Augsburg_I","t":0.672,"v":9.7},{"s":"Augsburg_I","t":0.647,"v":9.6},{"s":"Augsburg_I","t":0.623,"v":9.4},{"s":"Augsburg_I","t":0.601,"v":9.3},{"s":"Augsburg_I","t":0.581,"v":9.2},
      {"s":"Augsburg_I","t":0.562,"v":9.0},{"s":"Augsburg_I","t":0.544,"v":8.9},{"s":"Augsburg_I","t":0.528,"v":8.8},{"s":"Augsburg_I","t":0.512,"v":8.7},{"s":"Augsburg_I","t":0.497,"v":8.6},{"s":"Augsburg_I","t":0.483,"v":8.5},{"s":"Augsburg_I","t":0.47,"v":8.4},{"s":"Augsburg_I","t":0.458,"v":8.3},{"s":"Augsburg_I","t":0.446,"v":8.2},{"s":"Augsburg_I","t":0.434,"v":8.1},
      {"s":"Augsburg_I","t":0.424,"v":8.0},{"s":"Augsburg_I","t":0.413,"v":7.9},{"s":"Augsburg_I","t":0.404,"v":7.8},{"s":"Augsburg_I","t":0.394,"v":7.8},{"s":"Augsburg_I","t":0.386,"v":7.7},{"s":"Augsburg_I","t":0.377,"v":7.6},{"s":"Augsburg_I","t":0.369,"v":7.5},

      {"s":"Kempten_II","t":18.667,"v":35.78},{"s":"Kempten_II","t":7.0,"v":31.61},{"s":"Kempten_II","t":4.308,"v":23.46},{"s":"Kempten_II","t":3.111,"v":22.45},{"s":"Kempten_II","t":2.435,"v":22.41},{"s":"Kempten_II","t":2.0,"v":20.2},{"s":"Kempten_II","t":1.697,"v":18.75},{"s":"Kempten_II","t":1.474,"v":18.0},{"s":"Kempten_II","t":1.302,"v":17.1},{"s":"Kempten_II","t":1.167,"v":16.4},
      {"s":"Kempten_II","t":1.057,"v":15.8},{"s":"Kempten_II","t":0.966,"v":15.3},{"s":"Kempten_II","t":0.889,"v":14.9},{"s":"Kempten_II","t":0.824,"v":14.5},{"s":"Kempten_II","t":0.767,"v":14.1},{"s":"Kempten_II","t":0.718,"v":13.7},{"s":"Kempten_II","t":0.675,"v":13.3},{"s":"Kempten_II","t":0.636,"v":13.0},{"s":"Kempten_II","t":0.602,"v":12.7},{"s":"Kempten_II","t":0.571,"v":12.4},
      {"s":"Kempten_II","t":0.544,"v":12.1},{"s":"Kempten_II","t":0.519,"v":11.8},{"s":"Kempten_II","t":0.496,"v":11.6},{"s":"Kempten_II","t":0.475,"v":11.4},{"s":"Kempten_II","t":0.455,"v":11.1},{"s":"Kempten_II","t":0.438,"v":10.9},{"s":"Kempten_II","t":0.421,"v":10.7},{"s":"Kempten_II","t":0.406,"v":10.5},{"s":"Kempten_II","t":0.392,"v":10.3},{"s":"Kempten_II","t":0.378,"v":10.2},{"s":"Kempten_II","t":0.366,"v":10.0},

      {"s":"Freiburg_II","t":18.667,"v":28.28},{"s":"Freiburg_II","t":7.0,"v":27.65},{"s":"Freiburg_II","t":4.308,"v":19.4},{"s":"Freiburg_II","t":3.111,"v":18.9},{"s":"Freiburg_II","t":2.435,"v":16.96},{"s":"Freiburg_II","t":2.0,"v":16.23},{"s":"Freiburg_II","t":1.697,"v":15.37},{"s":"Freiburg_II","t":1.474,"v":14.8},{"s":"Freiburg_II","t":1.302,"v":14.51},{"s":"Freiburg_II","t":1.167,"v":14.08},
      {"s":"Freiburg_II","t":1.057,"v":14.0},{"s":"Freiburg_II","t":0.966,"v":13.94},{"s":"Freiburg_II","t":0.889,"v":13.8},{"s":"Freiburg_II","t":0.824,"v":13.6},{"s":"Freiburg_II","t":0.767,"v":13.3},{"s":"Freiburg_II","t":0.718,"v":13.0},{"s":"Freiburg_II","t":0.675,"v":12.6},{"s":"Freiburg_II","t":0.636,"v":12.3},{"s":"Freiburg_II","t":0.602,"v":12.0},{"s":"Freiburg_II","t":0.571,"v":11.7},
      {"s":"Freiburg_II","t":0.544,"v":11.5},{"s":"Freiburg_II","t":0.519,"v":11.3},{"s":"Freiburg_II","t":0.496,"v":11.1},{"s":"Freiburg_II","t":0.475,"v":10.9},{"s":"Freiburg_II","t":0.455,"v":10.7},{"s":"Freiburg_II","t":0.438,"v":10.5},{"s":"Freiburg_II","t":0.421,"v":10.3},{"s":"Freiburg_II","t":0.406,"v":10.1},{"s":"Freiburg_II","t":0.392,"v":9.9},{"s":"Freiburg_II","t":0.378,"v":9.7},{"s":"Freiburg_II","t":0.366,"v":9.5},

      {"s":"Weiden_II","t":18.667,"v":41.66},{"s":"Weiden_II","t":7.0,"v":33.13},{"s":"Weiden_II","t":4.308,"v":32.56},{"s":"Weiden_II","t":3.111,"v":29.74},{"s":"Weiden_II","t":2.435,"v":26.66},{"s":"Weiden_II","t":2.0,"v":23.77},{"s":"Weiden_II","t":1.697,"v":22.27},{"s":"Weiden_II","t":1.474,"v":19.89},{"s":"Weiden_II","t":1.302,"v":19.34},{"s":"Weiden_II","t":1.167,"v":18.62},
      {"s":"Weiden_II","t":1.057,"v":17.24},{"s":"Weiden_II","t":0.966,"v":16.66},{"s":"Weiden_II","t":0.889,"v":16.2},{"s":"Weiden_II","t":0.824,"v":15.9},{"s":"Weiden_II","t":0.767,"v":15.5},{"s":"Weiden_II","t":0.718,"v":15.1},{"s":"Weiden_II","t":0.675,"v":14.6},{"s":"Weiden_II","t":0.636,"v":14.2},{"s":"Weiden_II","t":0.602,"v":13.7},{"s":"Weiden_II","t":0.571,"v":13.3},
      {"s":"Weiden_II","t":0.544,"v":12.9},{"s":"Weiden_II","t":0.519,"v":12.5},{"s":"Weiden_II","t":0.496,"v":12.1},{"s":"Weiden_II","t":0.475,"v":11.8},{"s":"Weiden_II","t":0.455,"v":11.5},{"s":"Weiden_II","t":0.438,"v":11.2},{"s":"Weiden_II","t":0.421,"v":10.9},{"s":"Weiden_II","t":0.406,"v":10.7},{"s":"Weiden_II","t":0.392,"v":10.5},{"s":"Weiden_II","t":0.378,"v":10.3},{"s":"Weiden_II","t":0.366,"v":10.1},

      {"s":"Kempten_III","t":23.667,"v":35.78},{"s":"Kempten_III","t":8.875,"v":31.61},{"s":"Kempten_III","t":5.462,"v":26.23},{"s":"Kempten_III","t":3.944,"v":24.75},{"s":"Kempten_III","t":3.087,"v":23.5},{"s":"Kempten_III","t":2.536,"v":22.45},{"s":"Kempten_III","t":2.152,"v":22.3},{"s":"Kempten_III","t":1.868,"v":20.4},{"s":"Kempten_III","t":1.651,"v":20.11},{"s":"Kempten_III","t":1.479,"v":19.0},
      {"s":"Kempten_III","t":1.34,"v":18.4},{"s":"Kempten_III","t":1.224,"v":17.8},{"s":"Kempten_III","t":1.127,"v":16.9},{"s":"Kempten_III","t":1.044,"v":16.4},{"s":"Kempten_III","t":0.973,"v":16.0},{"s":"Kempten_III","t":0.91,"v":15.6},{"s":"Kempten_III","t":0.855,"v":15.3},{"s":"Kempten_III","t":0.807,"v":15.0},{"s":"Kempten_III","t":0.763,"v":14.7},{"s":"Kempten_III","t":0.724,"v":14.4},
      {"s":"Kempten_III","t":0.689,"v":14.1},{"s":"Kempten_III","t":0.657,"v":13.9},{"s":"Kempten_III","t":0.628,"v":13.6},{"s":"Kempten_III","t":0.602,"v":13.4},{"s":"Kempten_III","t":0.577,"v":13.2},{"s":"Kempten_III","t":0.555,"v":13.0},{"s":"Kempten_III","t":0.534,"v":12.8},{"s":"Kempten_III","t":0.514,"v":12.6},{"s":"Kempten_III","t":0.497,"v":12.4},{"s":"Kempten_III","t":0.48,"v":12.2},
      {"s":"Kempten_III","t":0.464,"v":12.1},{"s":"Kempten_III","t":0.449,"v":11.9},{"s":"Kempten_III","t":0.436,"v":11.7},{"s":"Kempten_III","t":0.423,"v":11.6},{"s":"Kempten_III","t":0.41,"v":11.4},{"s":"Kempten_III","t":0.399,"v":11.3},{"s":"Kempten_III","t":0.388,"v":11.2},{"s":"Kempten_III","t":0.378,"v":11.0},{"s":"Kempten_III","t":0.368,"v":10.9},

      {"s":"Freiburg_III","t":10.333,"v":28.45},{"s":"Freiburg_III","t":3.875,"v":25.09},{"s":"Freiburg_III","t":2.385,"v":24.94},{"s":"Freiburg_III","t":1.722,"v":21.4},{"s":"Freiburg_III","t":1.348,"v":15.2},{"s":"Freiburg_III","t":1.107,"v":12.7},{"s":"Freiburg_III","t":0.939,"v":12.35},{"s":"Freiburg_III","t":0.816,"v":12.35},{"s":"Freiburg_III","t":0.721,"v":12.07},
      {"s":"Freiburg_III","t":0.646,"v":11.92},{"s":"Freiburg_III","t":0.585,"v":10.2},{"s":"Freiburg_III","t":0.534,"v":10.1},{"s":"Freiburg_III","t":0.492,"v":10.0},{"s":"Freiburg_III","t":0.456,"v":10.0},{"s":"Freiburg_III","t":0.425,"v":9.97},{"s":"Freiburg_III","t":0.397,"v":9.95},{"s":"Freiburg_III","t":0.373,"v":9.9},{"s":"Freiburg_III","t":0.352,"v":9.85},

      {"s":"Weiden_III","t":10.333,"v":35.4},{"s":"Weiden_III","t":3.875,"v":22.47},{"s":"Weiden_III","t":2.385,"v":18.0},{"s":"Weiden_III","t":1.722,"v":17.8},{"s":"Weiden_III","t":1.348,"v":17.1},{"s":"Weiden_III","t":1.107,"v":16.9},{"s":"Weiden_III","t":0.939,"v":16.3},{"s":"Weiden_III","t":0.816,"v":15.7},{"s":"Weiden_III","t":0.721,"v":15.1},
      {"s":"Weiden_III","t":0.646,"v":14.4},{"s":"Weiden_III","t":0.585,"v":13.9},{"s":"Weiden_III","t":0.534,"v":13.4},{"s":"Weiden_III","t":0.492,"v":12.9},{"s":"Weiden_III","t":0.456,"v":12.5},{"s":"Weiden_III","t":0.425,"v":12.1},{"s":"Weiden_III","t":0.397,"v":11.8},{"s":"Weiden_III","t":0.373,"v":11.5},{"s":"Weiden_III","t":0.352,"v":11.3},

      {"s":"Augsburg_III","t":27.0,"v":34.97},{"s":"Augsburg_III","t":10.125,"v":34.05},{"s":"Augsburg_III","t":6.231,"v":30.5},{"s":"Augsburg_III","t":4.5,"v":23.77},{"s":"Augsburg_III","t":3.522,"v":23.42},{"s":"Augsburg_III","t":2.893,"v":21.2},{"s":"Augsburg_III","t":2.455,"v":20.3},{"s":"Augsburg_III","t":2.132,"v":20.1},{"s":"Augsburg_III","t":1.884,"v":19.6},{"s":"Augsburg_III","t":1.688,"v":19.0},
      {"s":"Augsburg_III","t":1.528,"v":18.5},{"s":"Augsburg_III","t":1.397,"v":18.0},{"s":"Augsburg_III","t":1.286,"v":17.6},{"s":"Augsburg_III","t":1.191,"v":17.3},{"s":"Augsburg_III","t":1.11,"v":17.0},{"s":"Augsburg_III","t":1.038,"v":16.6},{"s":"Augsburg_III","t":0.976,"v":16.2},{"s":"Augsburg_III","t":0.92,"v":15.9},{"s":"Augsburg_III","t":0.871,"v":15.5},{"s":"Augsburg_III","t":0.827,"v":15.2},
      {"s":"Augsburg_III","t":0.786,"v":14.9},{"s":"Augsburg_III","t":0.75,"v":14.6},{"s":"Augsburg_III","t":0.717,"v":14.3},{"s":"Augsburg_III","t":0.686,"v":14.0},{"s":"Augsburg_III","t":0.659,"v":13.8},{"s":"Augsburg_III","t":0.633,"v":13.5},{"s":"Augsburg_III","t":0.609,"v":13.3},{"s":"Augsburg_III","t":0.587,"v":13.0},{"s":"Augsburg_III","t":0.566,"v":12.8},{"s":"Augsburg_III","t":0.547,"v":12.6},
      {"s":"Augsburg_III","t":0.529,"v":12.4},{"s":"Augsburg_III","t":0.513,"v":12.2},{"s":"Augsburg_III","t":0.497,"v":12.0},{"s":"Augsburg_III","t":0.482,"v":11.8},{"s":"Augsburg_III","t":0.468,"v":11.6},{"s":"Augsburg_III","t":0.455,"v":11.4},{"s":"Augsburg_III","t":0.443,"v":11.2},{"s":"Augsburg_III","t":0.431,"v":11.1},{"s":"Augsburg_III","t":0.42,"v":10.9},{"s":"Augsburg_III","t":0.409,"v":10.8},
      {"s":"Augsburg_III","t":0.399,"v":10.6},{"s":"Augsburg_III","t":0.39,"v":10.5},{"s":"Augsburg_III","t":0.381,"v":10.4},{"s":"Augsburg_III","t":0.372,"v":10.3},{"s":"Augsburg_III","t":0.363,"v":10.2}
    ]
  },
  "spacing": 102,
  "bounds": "flush",
  "resolve": {
    "scale": {"x": "independent", "y": "independent", "color": "independent", "shape": "independent"},
    "legend": {"color": "independent", "shape": "independent"}
  },
  "hconcat": [
    {
      "width": 476, "height": 464,
      "title": {"text": "Duration 5 [min]"},
      "data": {"name": "d5"},
      "encoding": {
        "x": {"field": "t", "type": "quantitative", "scale": {"type": "log", "domain": [0.3715, 50], "nice": false}, "axis": {"values": [1, 2, 5, 10, 20, 50], "format": "d", "title": "Return period [a]", "titlePadding": 10}},
        "y": {"field": "v", "type": "quantitative", "scale": {"domain": [0, 25], "nice": false, "zero": false}, "axis": {"values": [0, 5, 10, 15, 20, 25], "format": "d", "title": "Depth [mm]", "titlePadding": 11}}
      },
      "layer": [
        {"transform": [{"filter": "datum.v < 0"}],
         "mark": {"type": "point", "filled": true},
         "encoding": {
           "color": {"field": "s", "type": "nominal",
                     "scale": {"domain": ["Kempten_I","Freiburg_I","Weiden_I","Augsburg_I","Kempten_II","Freiburg_II","Weiden_II","Augsburg_II","Kempten_III","Freiburg_III","Weiden_III","Augsburg_III"], "range": ["#ff0000","#ff0000","#ff0000","#ff0000","#0000ff","#0000ff","#0000ff","#0000ff","#ffa500","#ffa500","#ffa500","#ffa500"]},
                     "legend": {"orient": "none", "legendX": 18, "legendY": 6, "title": null, "direction": "vertical", "labelExpr": "datum.label == 'Augsburg_II' ? '' : datum.label"}},
           "shape": {"field": "s", "type": "nominal",
                     "scale": {"domain": ["Kempten_I","Freiburg_I","Weiden_I","Augsburg_I","Kempten_II","Freiburg_II","Weiden_II","Augsburg_II","Kempten_III","Freiburg_III","Weiden_III","Augsburg_III"], "range": [
                       "M-0.78,0L0.78,0M-0.78,-0.36L-0.57,0L-0.78,0.36L-0.99,0ZM0.78,-0.36L0.99,0L0.78,0.36L0.57,0Z",
                       "M-0.78,0L0.78,0M-1.02,-0.24L-0.54,-0.24L-0.54,0.24L-1.02,0.24ZM0.54,-0.24L1.02,-0.24L1.02,0.24L0.54,0.24Z",
                       "M-0.78,0L0.78,0M-1.03,0L-0.96,-0.18L-0.78,-0.25L-0.6,-0.18L-0.53,0L-0.6,0.18L-0.78,0.25L-0.96,0.18ZM0.53,0L0.6,-0.18L0.78,-0.25L0.96,-0.18L1.03,0L0.96,0.18L0.78,0.25L0.6,0.18Z",
                       "M-0.78,0L0.78,0M-1.05,-0.27L-0.51,0.27M-1.05,0.27L-0.51,-0.27M0.51,-0.27L1.05,0.27M0.51,0.27L1.05,-0.27",
                       "M-0.78,0L0.78,0M-0.78,-0.36L-0.57,0L-0.78,0.36L-0.99,0ZM0.78,-0.36L0.99,0L0.78,0.36L0.57,0Z",
                       "M-0.78,0L0.78,0M-1.02,-0.24L-0.54,-0.24L-0.54,0.24L-1.02,0.24ZM0.54,-0.24L1.02,-0.24L1.02,0.24L0.54,0.24Z",
                       "M-0.78,0L0.78,0M-1.03,0L-0.96,-0.18L-0.78,-0.25L-0.6,-0.18L-0.53,0L-0.6,0.18L-0.78,0.25L-0.96,0.18ZM0.53,0L0.6,-0.18L0.78,-0.25L0.96,-0.18L1.03,0L0.96,0.18L0.78,0.25L0.6,0.18Z",
                       "M-0.78,0L0.78,0M-1.05,-0.27L-0.51,0.27M-1.05,0.27L-0.51,-0.27M0.51,-0.27L1.05,0.27M0.51,0.27L1.05,-0.27",
                       "M-0.78,0L0.78,0M-0.78,-0.36L-0.57,0L-0.78,0.36L-0.99,0ZM0.78,-0.36L0.99,0L0.78,0.36L0.57,0Z",
                       "M-0.78,0L0.78,0M-1.02,-0.24L-0.54,-0.24L-0.54,0.24L-1.02,0.24ZM0.54,-0.24L1.02,-0.24L1.02,0.24L0.54,0.24Z",
                       "M-0.78,0L0.78,0M-1.03,0L-0.96,-0.18L-0.78,-0.25L-0.6,-0.18L-0.53,0L-0.6,0.18L-0.78,0.25L-0.96,0.18ZM0.53,0L0.6,-0.18L0.78,-0.25L0.96,-0.18L1.03,0L0.96,0.18L0.78,0.25L0.6,0.18Z",
                       "M-0.78,0L0.78,0M-1.05,-0.27L-0.51,0.27M-1.05,0.27L-0.51,-0.27M0.51,-0.27L1.05,0.27M0.51,0.27L1.05,-0.27"]},
                     "legend": {"orient": "none", "legendX": 18, "legendY": 6, "title": null, "direction": "vertical", "labelExpr": "datum.label == 'Augsburg_II' ? '' : datum.label"}}
         }},
        {"mark": {"type": "line", "clip": true, "strokeWidth": 1, "opacity": 0.55},
         "encoding": {"color": {"field": "s", "type": "nominal", "scale": {"domain": ["Kempten_I","Freiburg_I","Weiden_I","Augsburg_I","Kempten_II","Freiburg_II","Weiden_II","Augsburg_II","Kempten_III","Freiburg_III","Weiden_III","Augsburg_III"], "range": ["#ff0000","#ff0000","#ff0000","#ff0000","#0000ff","#0000ff","#0000ff","#0000ff","#ffa500","#ffa500","#ffa500","#ffa500"]}}}},
        {"transform": [{"filter": "indexof(datum.s, 'Kempten') === 0"}],
         "mark": {"type": "point", "shape": "M0,-1L0.55,0L0,1L-0.55,0Z", "filled": true, "size": 100, "opacity": 0.6, "stroke": "#000", "strokeWidth": 0.6, "clip": true},
         "encoding": {"color": {"field": "s", "type": "nominal"}}},
        {"transform": [{"filter": "indexof(datum.s, 'Freiburg') === 0"}],
         "mark": {"type": "point", "shape": "square", "filled": true, "size": 62, "opacity": 0.6, "stroke": "#000", "strokeWidth": 0.6, "clip": true},
         "encoding": {"color": {"field": "s", "type": "nominal"}}},
        {"transform": [{"filter": "indexof(datum.s, 'Weiden') === 0"}],
         "mark": {"type": "point", "shape": "circle", "filled": true, "size": 52, "opacity": 0.6, "stroke": "#000", "strokeWidth": 0.6, "clip": true},
         "encoding": {"color": {"field": "s", "type": "nominal"}}},
        {"transform": [{"filter": "indexof(datum.s, 'Augsburg') === 0"}],
         "mark": {"type": "point", "shape": "M-1,-1L1,1M-1,1L1,-1", "filled": false, "size": 54, "opacity": 0.6, "strokeWidth": 1, "clip": true},
         "encoding": {"color": {"field": "s", "type": "nominal"}}}
      ]
    },
    {
      "width": 476, "height": 464,
      "title": {"text": "Duration 30 [min]"},
      "data": {"name": "d30"},
      "encoding": {
        "x": {"field": "t", "type": "quantitative", "scale": {"type": "log", "domain": [0.3715, 50], "nice": false}, "axis": {"values": [1, 2, 5, 10, 20, 50], "format": "d", "title": "Return period [a]", "titlePadding": 10}},
        "y": {"field": "v", "type": "quantitative", "scale": {"domain": [5, 45], "nice": false, "zero": false}, "axis": {"values": [5, 10, 15, 20, 25, 30, 35, 40, 45], "format": "d", "title": "Depth [mm]", "titlePadding": 11}}
      },
      "layer": [
        {"transform": [{"filter": "datum.v < 0"}],
         "mark": {"type": "point", "filled": true},
         "encoding": {
           "color": {"field": "s", "type": "nominal",
                     "scale": {"domain": ["Kempten_I","Freiburg_I","Weiden_I","Augsburg_I","Kempten_II","Freiburg_II","Weiden_II","Augsburg_II","Kempten_III","Freiburg_III","Weiden_III","Augsburg_III"], "range": ["#ff0000","#ff0000","#ff0000","#ff0000","#0000ff","#0000ff","#0000ff","#0000ff","#ffa500","#ffa500","#ffa500","#ffa500"]},
                     "legend": {"orient": "none", "legendX": 18, "legendY": 6, "title": null, "direction": "vertical", "labelExpr": "datum.label == 'Augsburg_II' ? '' : datum.label"}},
           "shape": {"field": "s", "type": "nominal",
                     "scale": {"domain": ["Kempten_I","Freiburg_I","Weiden_I","Augsburg_I","Kempten_II","Freiburg_II","Weiden_II","Augsburg_II","Kempten_III","Freiburg_III","Weiden_III","Augsburg_III"], "range": [
                       "M-0.78,0L0.78,0M-0.78,-0.36L-0.57,0L-0.78,0.36L-0.99,0ZM0.78,-0.36L0.99,0L0.78,0.36L0.57,0Z",
                       "M-0.78,0L0.78,0M-1.02,-0.24L-0.54,-0.24L-0.54,0.24L-1.02,0.24ZM0.54,-0.24L1.02,-0.24L1.02,0.24L0.54,0.24Z",
                       "M-0.78,0L0.78,0M-1.03,0L-0.96,-0.18L-0.78,-0.25L-0.6,-0.18L-0.53,0L-0.6,0.18L-0.78,0.25L-0.96,0.18ZM0.53,0L0.6,-0.18L0.78,-0.25L0.96,-0.18L1.03,0L0.96,0.18L0.78,0.25L0.6,0.18Z",
                       "M-0.78,0L0.78,0M-1.05,-0.27L-0.51,0.27M-1.05,0.27L-0.51,-0.27M0.51,-0.27L1.05,0.27M0.51,0.27L1.05,-0.27",
                       "M-0.78,0L0.78,0M-0.78,-0.36L-0.57,0L-0.78,0.36L-0.99,0ZM0.78,-0.36L0.99,0L0.78,0.36L0.57,0Z",
                       "M-0.78,0L0.78,0M-1.02,-0.24L-0.54,-0.24L-0.54,0.24L-1.02,0.24ZM0.54,-0.24L1.02,-0.24L1.02,0.24L0.54,0.24Z",
                       "M-0.78,0L0.78,0M-1.03,0L-0.96,-0.18L-0.78,-0.25L-0.6,-0.18L-0.53,0L-0.6,0.18L-0.78,0.25L-0.96,0.18ZM0.53,0L0.6,-0.18L0.78,-0.25L0.96,-0.18L1.03,0L0.96,0.18L0.78,0.25L0.6,0.18Z",
                       "M-0.78,0L0.78,0M-1.05,-0.27L-0.51,0.27M-1.05,0.27L-0.51,-0.27M0.51,-0.27L1.05,0.27M0.51,0.27L1.05,-0.27",
                       "M-0.78,0L0.78,0M-0.78,-0.36L-0.57,0L-0.78,0.36L-0.99,0ZM0.78,-0.36L0.99,0L0.78,0.36L0.57,0Z",
                       "M-0.78,0L0.78,0M-1.02,-0.24L-0.54,-0.24L-0.54,0.24L-1.02,0.24ZM0.54,-0.24L1.02,-0.24L1.02,0.24L0.54,0.24Z",
                       "M-0.78,0L0.78,0M-1.03,0L-0.96,-0.18L-0.78,-0.25L-0.6,-0.18L-0.53,0L-0.6,0.18L-0.78,0.25L-0.96,0.18ZM0.53,0L0.6,-0.18L0.78,-0.25L0.96,-0.18L1.03,0L0.96,0.18L0.78,0.25L0.6,0.18Z",
                       "M-0.78,0L0.78,0M-1.05,-0.27L-0.51,0.27M-1.05,0.27L-0.51,-0.27M0.51,-0.27L1.05,0.27M0.51,0.27L1.05,-0.27"]},
                     "legend": {"orient": "none", "legendX": 18, "legendY": 6, "title": null, "direction": "vertical", "labelExpr": "datum.label == 'Augsburg_II' ? '' : datum.label"}}
         }},
        {"mark": {"type": "line", "clip": true, "strokeWidth": 1, "opacity": 0.55},
         "encoding": {"color": {"field": "s", "type": "nominal", "scale": {"domain": ["Kempten_I","Freiburg_I","Weiden_I","Augsburg_I","Kempten_II","Freiburg_II","Weiden_II","Augsburg_II","Kempten_III","Freiburg_III","Weiden_III","Augsburg_III"], "range": ["#ff0000","#ff0000","#ff0000","#ff0000","#0000ff","#0000ff","#0000ff","#0000ff","#ffa500","#ffa500","#ffa500","#ffa500"]}}}},
        {"transform": [{"filter": "indexof(datum.s, 'Kempten') === 0"}],
         "mark": {"type": "point", "shape": "M0,-1L0.55,0L0,1L-0.55,0Z", "filled": true, "size": 100, "opacity": 0.6, "stroke": "#000", "strokeWidth": 0.6, "clip": true},
         "encoding": {"color": {"field": "s", "type": "nominal"}}},
        {"transform": [{"filter": "indexof(datum.s, 'Freiburg') === 0"}],
         "mark": {"type": "point", "shape": "square", "filled": true, "size": 62, "opacity": 0.6, "stroke": "#000", "strokeWidth": 0.6, "clip": true},
         "encoding": {"color": {"field": "s", "type": "nominal"}}},
        {"transform": [{"filter": "indexof(datum.s, 'Weiden') === 0"}],
         "mark": {"type": "point", "shape": "circle", "filled": true, "size": 52, "opacity": 0.6, "stroke": "#000", "strokeWidth": 0.6, "clip": true},
         "encoding": {"color": {"field": "s", "type": "nominal"}}},
        {"transform": [{"filter": "indexof(datum.s, 'Augsburg') === 0"}],
         "mark": {"type": "point", "shape": "M-1,-1L1,1M-1,1L1,-1", "filled": false, "size": 54, "opacity": 0.6, "strokeWidth": 1, "clip": true},
         "encoding": {"color": {"field": "s", "type": "nominal"}}}
      ]
    }
  ]
}
